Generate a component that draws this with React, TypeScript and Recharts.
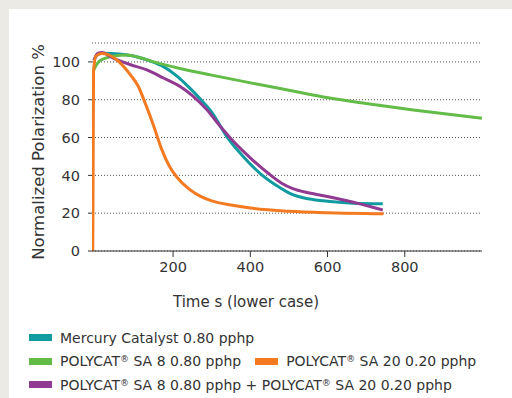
import { CartesianGrid, Line, LineChart, XAxis, YAxis } from "recharts";

const TEAL = "#0F9BA0";
const GREEN = "#62BC47";
const ORANGE = "#F47A22";
const PURPLE = "#913A92";
const TEXT = "#333333";
const FONT = "'DejaVu Sans', sans-serif";

// time (s) / normalized polarization (%)
const mercuryT = [-5, 5, 20, 60, 100, 140, 175, 210, 244, 270, 300, 339, 382, 425, 477, 510, 550, 606, 667, 743];
const mercuryV = [101, 104, 104.6, 104.2, 103, 100.5, 97.5, 92.5, 86, 80.5, 73.5, 60.5, 49.9, 41.1, 33.5, 29.8, 27.6, 26.2, 25.3, 25];

const sa8T = [-8, 0, 10, 25, 50, 80, 110, 150, 218, 300, 391, 500, 602, 700, 822, 1000];
const sa8V = [94.5, 98, 100.5, 102, 103.3, 103.6, 102.5, 100, 96.5, 93, 89.3, 85, 81, 78, 74.6, 70.2];

const sa20T = [-8, -6, 0, 15, 30, 60, 90, 110, 130, 150, 170, 190, 210, 240, 270, 300, 350, 400, 500, 600, 700, 745];
const sa20V = [0, 95, 103, 104.5, 104, 100, 93, 87, 77, 66, 54, 45, 39, 33, 29, 26.5, 24.3, 22.7, 21, 20.2, 19.8, 19.7];

const comboT = [-5, 5, 15, 45, 90, 132, 175, 218, 250, 287, 320, 356, 404, 447, 480, 510, 550, 606, 667, 743];
const comboV = [101, 104.5, 105, 102, 98.5, 95.8, 91.5, 87, 82.2, 74.8, 66.5, 58, 48.5, 41, 36, 33, 30.8, 28.6, 25.8, 21.7];

const xTicks = [200, 400, 600, 800];
const yTicks = [0, 20, 40, 60, 80, 100];

const toPoints = (t: number[], v: number[]) => t.map((x, i) => ({ t: x, v: v[i] }));

const series = [
  { key: "mercury", name: "Mercury Catalyst 0.80 pphp", color: TEAL, data: toPoints(mercuryT, mercuryV) },
  { key: "sa8", name: "POLYCAT® SA 8 0.80 pphp", color: GREEN, data: toPoints(sa8T, sa8V) },
  { key: "sa20", name: "POLYCAT® SA 20 0.20 pphp", color: ORANGE, data: toPoints(sa20T, sa20V) },
  { key: "combo", name: "POLYCAT® SA 8 0.80 pphp + POLYCAT® SA 20 0.20 pphp", color: PURPLE, data: toPoints(comboT, comboV) },
];

// legend rows as in the original: 1 / 2+3 / 4
const legendRows = [["mercury"], ["sa8", "sa20"], ["combo"]];

// shrink the ® marks like in the print version
function Name({ text }: { text: string }) {
  const parts = text.split("®");
  return (
    <span style={{ whiteSpace: "nowrap" }}>
      {parts.map((p, i) => (
        <span key={i}>
          {p}
          {i < parts.length - 1 && <span style={{ fontSize: 9, verticalAlign: 4 }}>®</span>}
        </span>
      ))}
    </span>
  );
}

function LegendBox() {
  return (
    <div style={{ fontFamily: FONT, fontSize: 14, color: TEXT }}>
      {legendRows.map((row, r) => (
        <div key={r} style={{ display: "flex", height: 23.6, alignItems: "center" }}>
          {row.map((k) => {
            const s = series.find((x) => x.key === k)!;
            return (
              <div key={k} style={{ display: "flex", alignItems: "center", marginRight: 14 }}>
                <span style={{ display: "inline-block", width: 23, height: 7, background: s.color, marginRight: 8 }} />
                <Name text={s.name} />
              </div>
            );
          })}
        </div>
      ))}
    </div>
  );
}

export default function App() {
  return (
    <div style={{ position: "absolute", left: 0, top: 0, width: 512, height: 398, background: "#ECEAE4" }}>
      <div style={{ position: "absolute", left: 9, top: 9, right: 0, bottom: 0, background: "#fff" }} />
      <div style={{ position: "absolute", left: 0, top: 0 }}>
        <LineChart width={512} height={398} margin={{ top: 43, right: 30, left: 32, bottom: 87 }}>
          <CartesianGrid vertical={false} stroke="#555" strokeDasharray="1 2" />
          <XAxis
            type="number"
            dataKey="t"
            domain={[-10, 1000]}
            ticks={xTicks}
            allowDataOverflow
            height={60}
            tickSize={6}
            tickMargin={5}
            stroke="#333"
            tick={{ fill: TEXT, fontSize: 14.5, fontFamily: FONT }}
            label={{ value: "Time s (lower case)", position: "center", dx: -41, dy: 21, fill: TEXT, fontSize: 15, fontFamily: FONT }}
          />
          <YAxis
            type="number"
            domain={[0, 110]}
            ticks={yTicks}
            allowDataOverflow
            width={60}
            axisLine={false}
            tickSize={4}
            tickMargin={8}
            stroke="#333"
            tick={{ fill: TEXT, fontSize: 14.5, fontFamily: FONT }}
            label={{ value: "Normalized Polarization %", angle: -90, position: "center", dx: -23.5, dy: 5, fill: TEXT, fontSize: 16.5, fontFamily: FONT }}
          />
          {[series[0], series[1], series[3], series[2]].map((s) => (
            <Line
              key={s.key}
              data={s.data}
              dataKey="v"
              name={s.name}
              type="monotone"
              stroke={s.color}
              strokeWidth={3}
              dot={false}
              isAnimationActive={false}
            />
          ))}
        </LineChart>
      </div>
      <div style={{ position: "absolute", left: 29, top: 326 }}>
        <LegendBox />
      </div>
    </div>
  );
}
